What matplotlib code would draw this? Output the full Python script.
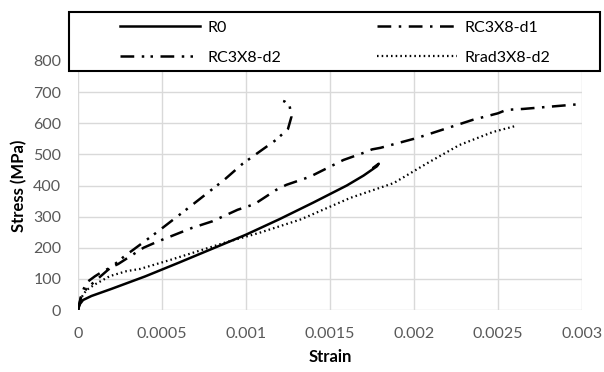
import matplotlib
matplotlib.use("Agg")
import matplotlib.pyplot as plt
from matplotlib.patches import Rectangle

plt.rcParams['font.family'] = ['Lato', 'DejaVu Sans']

# Data
r0_x = [0, 0.00001, 0.00003, 0.00008, 0.0002, 0.0004, 0.0006, 0.0008, 0.001, 0.0012,
        0.0014, 0.0016, 0.0017, 0.00178, 0.00179, 0.00176]
r0_y = [0, 18, 32, 45, 68, 108, 152, 197, 242, 292, 345, 400, 432, 462, 470, 458]

d1_x = [0, 0.00002, 0.00005, 0.0001, 0.00015, 0.00024, 0.00039, 0.00047, 0.00068, 0.0008,
        0.00095, 0.00105, 0.00118, 0.00124, 0.00138, 0.00158, 0.0017, 0.00175, 0.0018,
        0.00202, 0.00235, 0.0025, 0.00255, 0.00265, 0.003]
d1_y = [0, 50, 88, 108, 125, 148, 200, 219, 264, 285, 322, 340, 386, 402, 428, 482, 505,
        516, 521, 553, 611, 632, 643, 646, 662]

d2_x = [0, 0.00002, 0.00005, 0.0001, 0.00017, 0.00027, 0.00047, 0.00065, 0.00087, 0.00098,
        0.00118, 0.00125, 0.00127, 0.00126, 0.00123, 0.0012]
d2_y = [0, 45, 68, 92, 125, 170, 250, 325, 418, 470, 547, 582, 620, 655, 670, 675]

rr_x = [0, 0.00002, 0.00005, 0.0001, 0.00019, 0.00029, 0.00037, 0.00055, 0.00089, 0.00108,
        0.00132, 0.00136, 0.00162, 0.00188, 0.00208, 0.00227, 0.00247, 0.00261]
rr_y = [0, 40, 64, 82, 109, 125, 132, 161, 219, 248, 290, 299, 360, 408, 472, 530, 572, 592]

series_names = ["R0", "RC3X8-d1", "RC3X8-d2", "Rrad3X8-d2"]
x_ticks = [0, 0.0005, 0.001, 0.0015, 0.002, 0.0025, 0.003]
x_tick_labels = ["0", "0.0005", "0.001", "0.0015", "0.002", "0.0025", "0.003"]
y_ticks = [0, 100, 200, 300, 400, 500, 600, 700, 800]

W, H = 604, 372
fig = plt.figure(figsize=(W/100, H/100), dpi=100)
ax = fig.add_axes([78/W, 1-310/H, (582-78)/W, (310-61)/H])

lw = 1.8
h0, = ax.plot(r0_x, r0_y, color='black', lw=lw, linestyle='-', label=series_names[0])
h1, = ax.plot(d1_x, d1_y, color='black', lw=lw, linestyle=(0, (5.5, 3, 1, 3)), label=series_names[1])
h2, = ax.plot(d2_x, d2_y, color='black', lw=lw, linestyle=(0, (5.5, 3, 1, 2.5, 1, 3)), label=series_names[2])
h3, = ax.plot(rr_x, rr_y, color='black', lw=1.6, linestyle=(0, (0.7, 1.4)), label=series_names[3])

ax.set_xlim(0, 0.003)
ax.set_ylim(0, 800)
ax.set_xticks(x_ticks)
ax.set_xticklabels(x_tick_labels)
ax.set_yticks(y_ticks)
ax.grid(True, color='#d9d9d9', lw=1)
ax.set_axisbelow(True)
for s in ax.spines.values():
    s.set_visible(False)
ax.tick_params(length=0, labelsize=11.5, colors='#595959', pad=12)
ax.set_xlabel("Strain", fontsize=12, fontweight='bold', labelpad=6)
ax.set_ylabel("Stress (MPa)", fontsize=12, fontweight='bold', labelpad=4)

# legend frame
rect = Rectangle((69/W, 1-71/H), (600-69)/W, (71-12)/H, transform=fig.transFigure,
                 facecolor='white', edgecolor='black', lw=1.5, zorder=5)
fig.patches.append(rect)

common = dict(loc='center left', frameon=False, fontsize=11.5, handlelength=5.0,
              handletextpad=0.5, borderpad=0, borderaxespad=0, labelspacing=1.0)
leg1 = fig.legend([h0, h2], [series_names[0], series_names[2]],
                  bbox_to_anchor=(120/W, 1-42.5/H), **common)
leg2 = fig.legend([h1, h3], [series_names[1], series_names[3]],
                  bbox_to_anchor=(377/W, 1-42.5/H), **common)
for lg in (leg1, leg2):
    lg.set_zorder(6)

fig.savefig("out.png", dpi=100)
